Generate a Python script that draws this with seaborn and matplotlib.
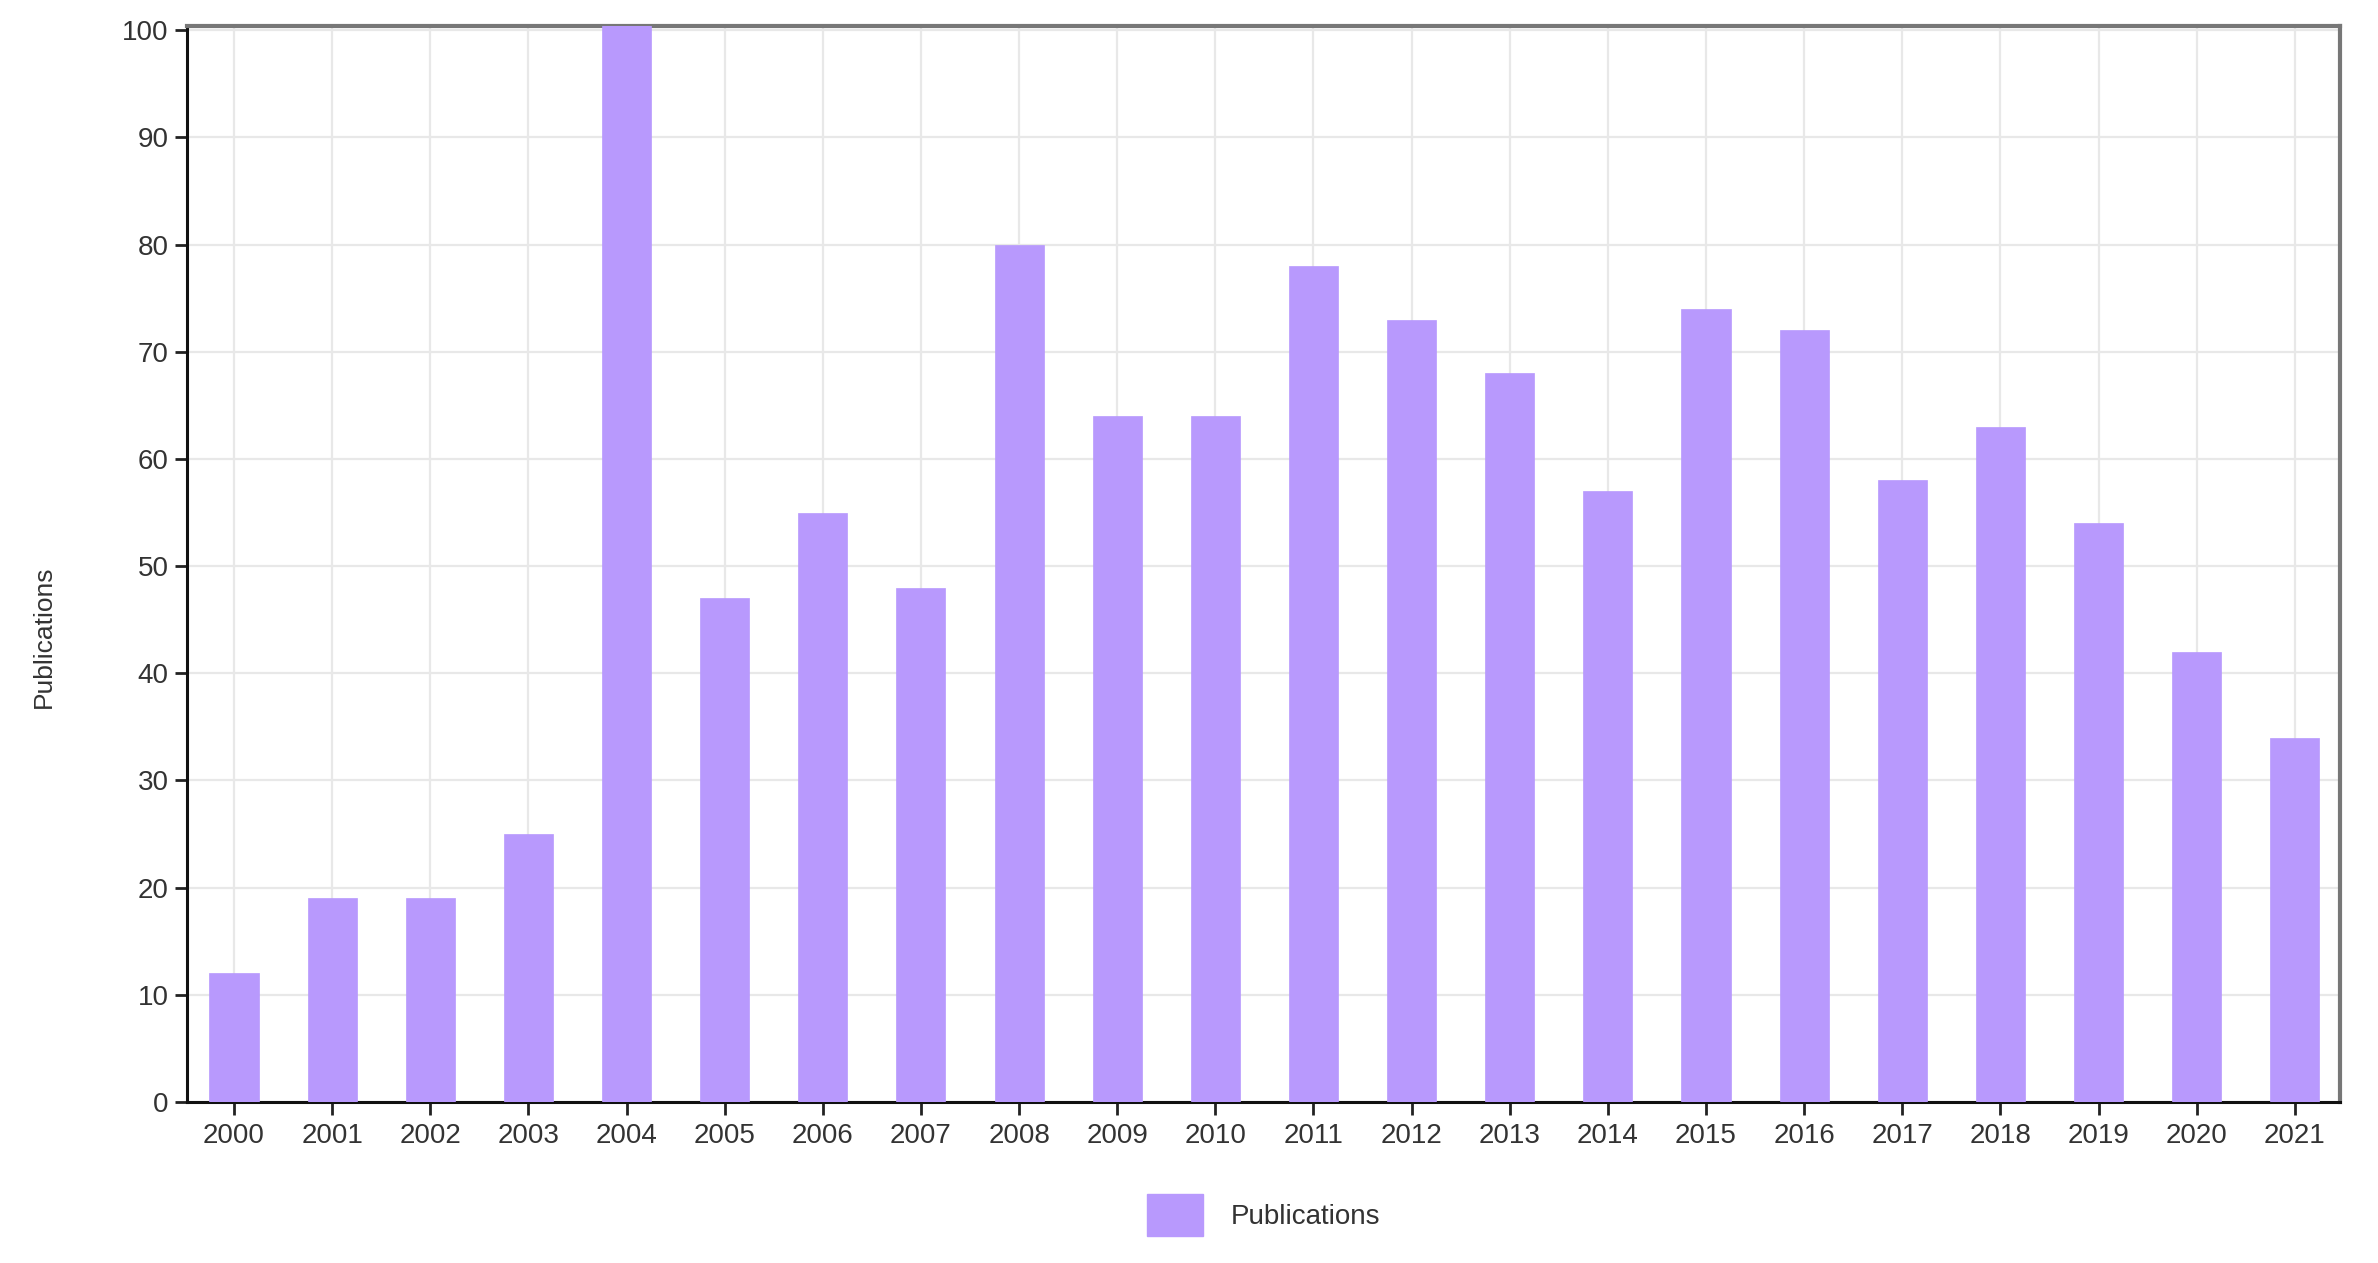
import matplotlib
matplotlib.use("Agg")
import matplotlib.pyplot as plt
from matplotlib.patches import Patch
import seaborn as sns
import pandas as pd

# dati
anni = [str(a) for a in range(2000, 2022)]
pubblicazioni = [12, 19, 19, 25, 101, 47, 55, 48, 80, 64, 64,
                 78, 73, 68, 57, 74, 72, 58, 63, 54, 42, 34]
tick_y = list(range(0, 101, 10))
etichetta = "Publications"
colore = "#b899fd"

df = pd.DataFrame({"anno": anni, "pub": pubblicazioni})

sns.set_style("white")
plt.rcParams["font.family"] = ["Liberation Sans", "DejaVu Sans"]

fig = plt.figure(figsize=(23.78, 12.63), dpi=100)
ax = fig.add_axes([0.0786, 0.1275, 0.9054, 0.8521])

sns.barplot(data=df, x="anno", y="pub", color=colore, width=0.5,
            saturation=1, edgecolor=colore, linewidth=0.5, ax=ax, zorder=3)

ax.set_xlim(-0.48, len(anni) - 0.54)
ax.set_ylim(0, 100.42)
ax.set_yticks(tick_y)

# griglia chiara dietro le barre
ax.grid(True, color="#e8e8e8", linewidth=1.6, zorder=0)
ax.set_axisbelow(True)

for lato in ["left", "bottom"]:
    ax.spines[lato].set_color("#111111")
    ax.spines[lato].set_linewidth(2.2)
for lato in ["top", "right"]:
    ax.spines[lato].set_color("#777777")
    ax.spines[lato].set_linewidth(3)
    ax.spines[lato].set_visible(True)

ax.tick_params(axis="both", direction="out", length=9, width=2,
               color="#222222", labelsize=20, labelcolor="#333333",
               left=True, bottom=True)
ax.tick_params(axis="x", pad=6)
ax.tick_params(axis="y", pad=4)

ax.set_xlabel("")
ax.set_ylabel(etichetta, fontsize=19, color="#333333")
ax.yaxis.set_label_coords(-0.061, 0.432)

fig.legend(handles=[Patch(facecolor=colore, edgecolor=colore, label=etichetta)],
           loc="center", bbox_to_anchor=(0.0786 + 0.9054 / 2, 0.038),
           frameon=False, fontsize=20, handlelength=2.0, handleheight=1.9,
           handletextpad=1.0, labelcolor="#333333")

fig.savefig("out.png", dpi=100)
plt.close(fig)
